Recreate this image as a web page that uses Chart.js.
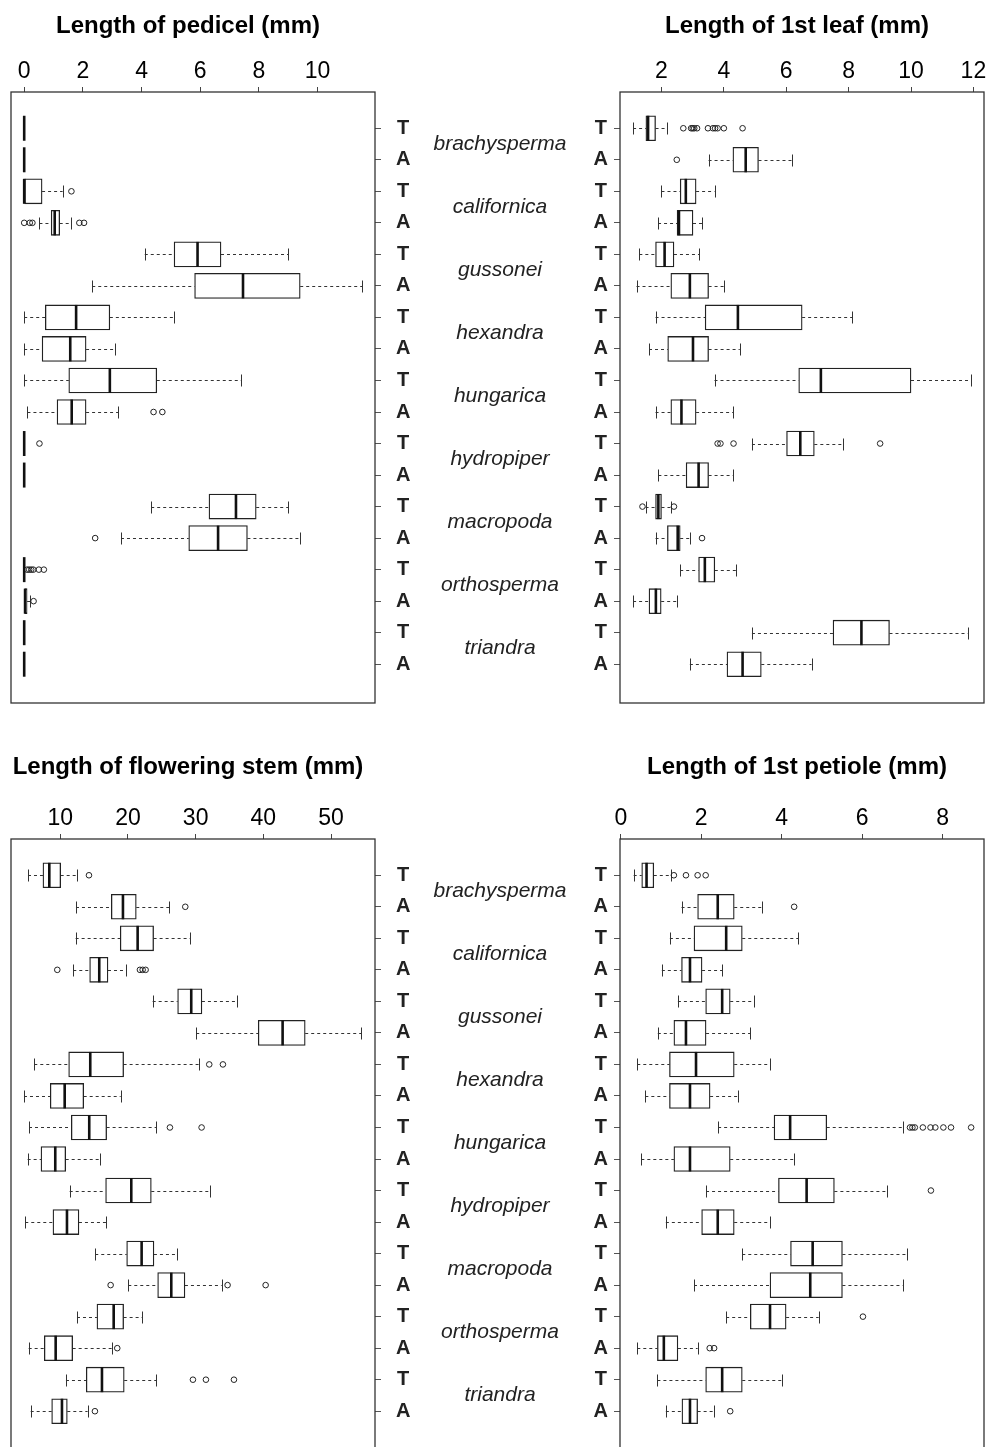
<!DOCTYPE html>
<html>
<head>
<meta charset="utf-8">
<script src="https://cdn.jsdelivr.net/npm/chart.js@4.4.0/dist/chart.umd.min.js"></script>
<style>
  html, body { margin: 0; padding: 0; background: #fff; overflow: hidden; }
  body { width: 1000px; height: 1447px; position: relative; }
  canvas { position: absolute; }
</style>
</head>
<body>
<canvas id="pedicel" width="590" height="720" style="left:0;top:0"></canvas>
<canvas id="leaf" width="420" height="720" style="left:580px;top:0"></canvas>
<canvas id="stem" width="590" height="720" style="left:0;top:747px"></canvas>
<canvas id="petiole" width="420" height="720" style="left:580px;top:747px"></canvas>
<script>
// species pairs, each with a T and an A row
const species = ['brachysperma', 'californica', 'gussonei', 'hexandra', 'hungarica',
                 'hydropiper', 'macropoda', 'orthosperma', 'triandra'];
const groups = ['T', 'A', 'T', 'A', 'T', 'A', 'T', 'A', 'T', 'A',
                'T', 'A', 'T', 'A', 'T', 'A', 'T', 'A'];

// Length of pedicel (mm)
const pedicelTicks = [0, 2, 4, 6, 8, 10];
const pedicelQ1  = [0, 0, 0, 0.92, 5.11, 5.81, 0.72, 0.61, 1.52, 1.12, 0, 0, 6.30, 5.61, 0, 0, 0, 0];
const pedicelMed = [0, 0, 0, 1.04, 5.91, 7.46, 1.77, 1.57, 2.92, 1.62, 0, 0, 7.22, 6.61, 0, 0.03, 0, 0];
const pedicelQ3  = [0, 0, 0.61, 1.21, 6.71, 9.41, 2.92, 2.11, 4.52, 2.11, 0, 0, 7.91, 7.61, 0, 0.10, 0, 0];
const pedicelLo  = [0, 0, 0, 0.52, 4.11, 2.32, 0, 0, 0, 0.11, 0, 0, 4.33, 3.30, 0, 0, 0, 0];
const pedicelHi  = [0, 0, 1.31, 1.59, 9.00, 11.53, 5.11, 3.11, 7.40, 3.21, 0, 0, 9.00, 9.41, 0, 0.21, 0, 0];
const pedicelOut = [[], [], [1.61], [0.0, 0.19, 0.28, 1.88, 2.04], [], [], [], [], [], [4.41, 4.71],
                    [0.52], [], [], [2.42], [0.10, 0.17, 0.24, 0.31, 0.50, 0.67], [0.32], [], []];

// Length of 1st leaf (mm)
const leafTicks = [2, 4, 6, 8, 10, 12];
const leafQ1  = [1.50, 4.29, 2.60, 2.50, 1.81, 2.30, 3.40, 2.20, 6.40, 2.30, 6.01, 2.79, 1.81, 2.19, 3.19, 1.60, 7.50, 4.10];
const leafMed = [1.57, 4.70, 2.78, 2.56, 2.10, 2.91, 4.45, 3.01, 7.11, 2.64, 6.45, 3.19, 1.90, 2.52, 3.39, 1.82, 8.41, 4.60];
const leafQ3  = [1.81, 5.11, 3.11, 3.01, 2.40, 3.51, 6.51, 3.51, 10.0, 3.11, 6.90, 3.51, 2.00, 2.60, 3.71, 1.99, 9.31, 5.20];
const leafLo  = [1.09, 3.51, 2.00, 1.89, 1.29, 1.20, 1.81, 1.60, 3.70, 1.81, 4.90, 1.90, 1.49, 1.81, 2.60, 1.09, 4.90, 2.91];
const leafHi  = [2.19, 6.20, 3.70, 3.30, 3.21, 4.00, 8.11, 4.51, 11.91, 4.29, 7.81, 4.29, 2.30, 2.91, 4.40, 2.50, 11.82, 6.81];
const leafOut = [[2.70, 2.95, 3.0, 3.05, 3.14, 3.49, 3.65, 3.72, 3.8, 4.0, 4.6], [2.49], [], [], [], [], [], [], [], [],
                 [3.80, 3.89, 4.31, 9.01], [], [1.39, 2.40], [3.30], [], [], [], []];

// Length of flowering stem (mm)
const stemTicks = [10, 20, 30, 40, 50];
const stemQ1  = [7.44, 17.54, 18.86, 14.34, 27.34, 39.25, 11.24, 8.52, 11.63, 7.15, 16.70, 8.92, 19.81, 24.39, 15.42, 7.64, 13.84, 8.73];
const stemMed = [8.38, 19.26, 21.43, 15.76, 29.35, 42.85, 14.43, 10.65, 14.28, 9.26, 20.49, 10.99, 22.02, 26.40, 17.89, 9.32, 16.16, 10.25];
const stemQ3  = [10.06, 21.23, 23.79, 17.05, 30.93, 46.19, 19.36, 13.46, 16.85, 10.80, 23.45, 12.76, 23.84, 28.42, 19.36, 11.83, 19.45, 11.04];
const stemLo  = [5.23, 12.32, 12.27, 11.92, 23.65, 30.09, 6.16, 4.64, 5.38, 5.18, 11.39, 4.83, 15.17, 20.05, 12.47, 5.33, 10.84, 5.63];
const stemHi  = [12.47, 26.10, 29.16, 19.75, 36.10, 54.46, 30.49, 18.92, 24.14, 15.91, 32.11, 16.75, 27.28, 33.84, 22.11, 17.59, 24.18, 14.04];
const stemOut = [[14.24], [28.47], [], [9.56, 21.77, 22.17, 22.61], [], [], [32.01, 34.03], [], [26.2, 30.88], [],
                 [], [], [], [17.44, 34.72, 40.34], [], [18.42], [29.6, 31.52, 35.66], [15.12]];

// Length of 1st petiole (mm)
const petioleTicks = [0, 2, 4, 6, 8];
const petioleQ1  = [0.52, 1.91, 1.82, 1.51, 2.11, 1.32, 1.21, 1.21, 3.81, 1.32, 3.92, 2.01, 4.22, 3.71, 3.22, 0.91, 2.11, 1.52];
const petioleMed = [0.64, 2.41, 2.62, 1.72, 2.52, 1.62, 1.87, 1.72, 4.21, 1.72, 4.62, 2.41, 4.77, 4.71, 3.71, 1.07, 2.52, 1.72];
const petioleQ3  = [0.82, 2.82, 3.02, 2.02, 2.72, 2.12, 2.82, 2.22, 5.12, 2.72, 5.31, 2.82, 5.51, 5.51, 4.11, 1.42, 3.02, 1.91];
const petioleLo  = [0.32, 1.51, 1.22, 1.02, 1.42, 0.92, 0.41, 0.61, 2.42, 0.51, 2.12, 1.12, 3.02, 1.82, 2.62, 0.41, 0.91, 1.12];
const petioleHi  = [1.24, 3.51, 4.41, 2.52, 3.32, 3.22, 3.71, 2.92, 7.01, 4.31, 6.62, 3.71, 7.11, 7.01, 4.92, 1.91, 4.01, 2.31];
const petioleOut = [[1.32, 1.62, 1.91, 2.11], [4.31], [], [], [], [], [], [], [7.19, 7.25, 7.31, 7.51, 7.70, 7.82, 8.02, 8.21, 8.71], [],
                    [7.71], [], [], [], [6.02], [2.21, 2.32], [], [2.72]];

const FONT = "'Liberation Sans', Arial, Helvetica, sans-serif";

// whiskers, medians, frame, title and species names
const boxExtras = {
    id: 'boxExtras',
    beforeDatasetsDraw(chart) {
        const ds = chart.data.datasets[0];
        const { x, y } = chart.scales;
        const ctx = chart.ctx;
        ctx.save();
        ctx.strokeStyle = '#333';
        ctx.lineWidth = 1;
        ds.lo.forEach((lo, i) => {
            const py = Math.round(y.getPixelForValue(i)) + 0.5;
            const [q1, q3] = ds.data[i].x;
            const hi = ds.hi[i];
            ctx.setLineDash([3, 3]);
            ctx.beginPath();
            ctx.moveTo(x.getPixelForValue(lo), py);
            ctx.lineTo(x.getPixelForValue(q1), py);
            ctx.moveTo(x.getPixelForValue(q3), py);
            ctx.lineTo(x.getPixelForValue(hi), py);
            ctx.stroke();
            ctx.setLineDash([]);
            ctx.beginPath();
            [lo, hi].forEach(v => {
                const px = Math.round(x.getPixelForValue(v)) + 0.5;
                ctx.moveTo(px, py - 6);
                ctx.lineTo(px, py + 6);
            });
            ctx.stroke();
        });
        ctx.restore();
    },
    afterDatasetsDraw(chart) {
        const ds = chart.data.datasets[0];
        const { x, y } = chart.scales;
        const ctx = chart.ctx;
        ctx.save();
        ctx.strokeStyle = '#111';
        ctx.lineWidth = 2.6;
        ds.med.forEach((m, i) => {
            const py = y.getPixelForValue(i);
            const px = x.getPixelForValue(m);
            ctx.beginPath();
            ctx.moveTo(px, py - 12.5);
            ctx.lineTo(px, py + 12.5);
            ctx.stroke();
        });
        ctx.restore();
    },
    afterDraw(chart, args, opts) {
        const { ctx, chartArea: a } = chart;
        ctx.save();
        ctx.strokeStyle = '#333';
        ctx.lineWidth = 1.3;
        ctx.strokeRect(a.left, a.top, a.right - a.left, a.bottom - a.top);

        ctx.fillStyle = '#000';
        ctx.font = 'bold 24px ' + FONT;
        ctx.textAlign = 'center';
        ctx.textBaseline = 'alphabetic';
        ctx.fillText(opts.title, (a.left + a.right) / 2 - 5, opts.titleY);

        if (opts.speciesX) {
            const y = chart.scales.y;
            ctx.fillStyle = '#222';
            ctx.font = 'italic 21px ' + FONT;
            ctx.textBaseline = 'middle';
            species.forEach((s, k) => {
                ctx.fillText(s, opts.speciesX, y.getPixelForValue(2 * k + 0.5));
            });
        }
        ctx.restore();
    }
};

function makePanel(id, cfg) {
    const boxes = groups.map((g, i) => ({ x: [cfg.q1[i], cfg.q3[i]], y: i }));
    const outliers = cfg.out.flatMap((vals, i) => vals.map(v => ({ x: v, y: i })));
    return new Chart(document.getElementById(id), {
        type: 'bar',
        data: {
            datasets: [
                {
                    type: 'bar', data: boxes, med: cfg.med, lo: cfg.lo, hi: cfg.hi,
                    backgroundColor: '#fff', borderColor: '#222', borderWidth: 1.3,
                    borderSkipped: false, barThickness: 25, order: 1
                },
                {
                    type: 'scatter', data: outliers, pointStyle: 'circle', pointRadius: 2.8,
                    borderColor: '#222', backgroundColor: 'rgba(0,0,0,0)', borderWidth: 1, order: 0
                }
            ]
        },
        options: {
            indexAxis: 'y',
            responsive: false,
            animation: false,
            layout: { padding: cfg.padding },
            plugins: {
                legend: { display: false },
                tooltip: { enabled: false },
                boxExtras: { title: cfg.title, titleY: cfg.titleY, speciesX: cfg.speciesX || 0 }
            },
            scales: {
                x: {
                    type: 'linear', position: 'top', min: cfg.range[0], max: cfg.range[1], bounds: 'data',
                    afterBuildTicks: a => { a.ticks = cfg.ticks.map(v => ({ value: v })); },
                    afterFit: a => { a.height = 50; a.paddingLeft = 0; a.paddingRight = 0; },
                    grid: { drawOnChartArea: false, drawTicks: true, tickLength: 5, color: '#444' },
                    border: { display: false },
                    ticks: { font: { family: FONT, size: 23 }, color: '#000', padding: 2, maxRotation: 0, autoSkip: false }
                },
                y: {
                    type: 'linear', position: cfg.side, reverse: true, min: -1.15, max: 18.23,
                    bounds: 'data', offset: false,
                    afterBuildTicks: a => { a.ticks = groups.map((g, i) => ({ value: i })); },
                    afterFit: a => { a.width = 40; a.paddingTop = 0; a.paddingBottom = 0; },
                    grid: { drawOnChartArea: false, offset: false, drawTicks: true, tickLength: 6, color: '#555' },
                    border: { display: false },
                    ticks: {
                        callback: (v, i) => groups[i],
                        font: { family: FONT, size: 20, weight: 'bold' }, color: '#222',
                        padding: cfg.yPad, crossAlign: 'center', autoSkip: false
                    }
                }
            }
        },
        plugins: [boxExtras]
    });
}

makePanel('pedicel', {
    title: 'Length of pedicel (mm)', titleY: 33, speciesX: 500, side: 'right', yPad: 15,
    padding: { left: 11, right: 175, top: 42, bottom: 17 },
    range: [-0.45, 11.96], ticks: pedicelTicks,
    q1: pedicelQ1, med: pedicelMed, q3: pedicelQ3, lo: pedicelLo, hi: pedicelHi, out: pedicelOut
});
makePanel('leaf', {
    title: 'Length of 1st leaf (mm)', titleY: 33, side: 'left', yPad: 6,
    padding: { left: 0, right: 16, top: 42, bottom: 17 },
    range: [0.67, 12.34], ticks: leafTicks,
    q1: leafQ1, med: leafMed, q3: leafQ3, lo: leafLo, hi: leafHi, out: leafOut
});
makePanel('stem', {
    title: 'Length of flowering stem (mm)', titleY: 26.5, speciesX: 500, side: 'right', yPad: 15,
    padding: { left: 11, right: 175, top: 42, bottom: 17 },
    range: [2.72, 56.5], ticks: stemTicks,
    q1: stemQ1, med: stemMed, q3: stemQ3, lo: stemLo, hi: stemHi, out: stemOut
});
makePanel('petiole', {
    title: 'Length of 1st petiole (mm)', titleY: 26.5, side: 'left', yPad: 6,
    padding: { left: 0, right: 16, top: 42, bottom: 17 },
    range: [-0.02, 9.03], ticks: petioleTicks,
    q1: petioleQ1, med: petioleMed, q3: petioleQ3, lo: petioleLo, hi: petioleHi, out: petioleOut
});
</script>
</body>
</html>
